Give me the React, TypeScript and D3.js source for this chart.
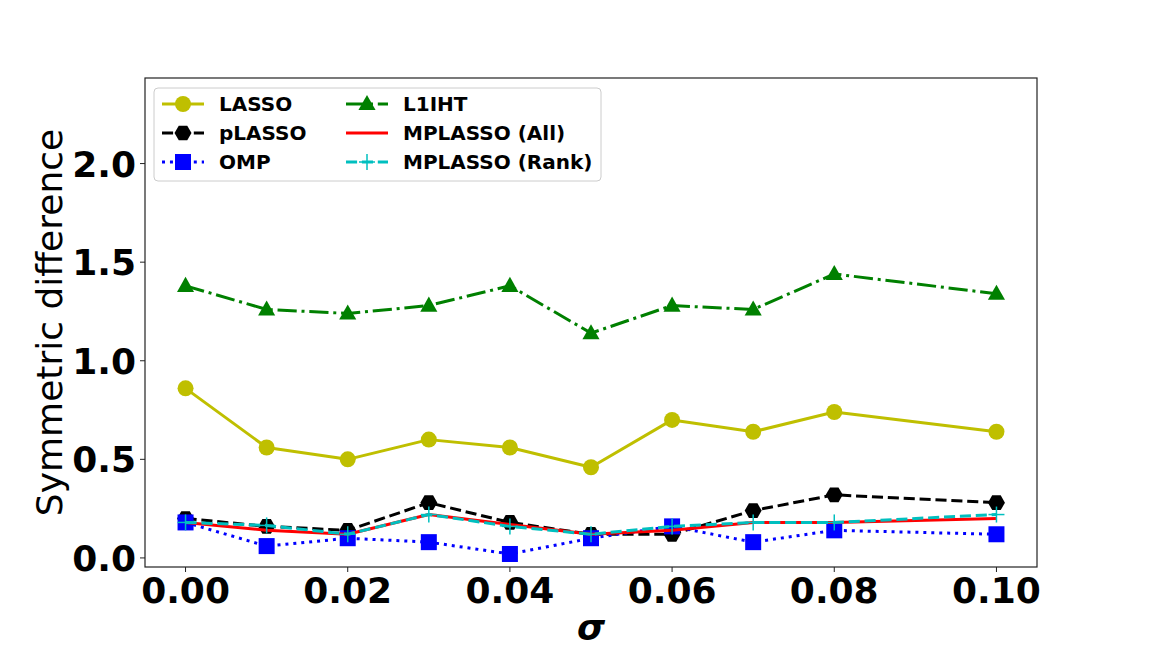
import React from "react";
import * as d3 from "d3";

const sigma = [0, 0.01, 0.02, 0.03, 0.04, 0.05, 0.06, 0.07, 0.08, 0.1];
const lasso = [0.86, 0.56, 0.5, 0.6, 0.56, 0.46, 0.7, 0.64, 0.74, 0.64];
const plasso = [0.2, 0.16, 0.14, 0.28, 0.18, 0.12, 0.12, 0.24, 0.32, 0.28];
const omp = [0.18, 0.06, 0.1, 0.08, 0.02, 0.1, 0.16, 0.08, 0.14, 0.12];
const l1iht = [1.38, 1.26, 1.24, 1.28, 1.38, 1.14, 1.28, 1.26, 1.44, 1.34];
const mpAll = [0.18, 0.14, 0.12, 0.22, 0.17, 0.12, 0.14, 0.18, 0.18, 0.2];
const mpRank = [0.18, 0.165, 0.12, 0.22, 0.16, 0.12, 0.16, 0.18, 0.18, 0.22];
const xTicks = [0, 0.02, 0.04, 0.06, 0.08, 0.1];
const yTicks = [0, 0.5, 1.0, 1.5, 2.0];

type Marker = "circle" | "hexagon" | "square" | "triangle" | "none" | "plus";
interface Series {
  name: string;
  values: number[];
  color: string;
  dash: string | null;
  marker: Marker;
  width: number;
}

const series: Series[] = [
  { name: "LASSO", values: lasso, color: "#bfbf00", dash: null, marker: "circle", width: 3 },
  { name: "pLASSO", values: plasso, color: "#000000", dash: "11.1,4.8", marker: "hexagon", width: 3 },
  { name: "OMP", values: omp, color: "#0000ff", dash: "3,4.95", marker: "square", width: 3 },
  { name: "L1IHT", values: l1iht, color: "#008000", dash: "19.2,4.8,3,4.8", marker: "triangle", width: 3 },
  { name: "MPLASSO (All)", values: mpAll, color: "#ff0000", dash: null, marker: "none", width: 3 },
  { name: "MPLASSO (Rank)", values: mpRank, color: "#00bfbf", dash: "11.1,4.8", marker: "plus", width: 3 },
];

const W = 1152, H = 648;
const L = 145, R = 1037, T = 78, B = 567;

const x = d3.scaleLinear().domain([-0.005, 0.105]).range([L, R]);
const y = d3.scaleLinear().domain([-0.046, 2.434]).range([B, T]);

function MarkerShape({ m, cx, cy, color }: { m: Marker; cx: number; cy: number; color: string }) {
  if (m === "circle") return <circle cx={cx} cy={cy} r={8} fill={color} />;
  if (m === "square") return <rect x={cx - 8} y={cy - 8} width={16} height={16} fill={color} />;
  if (m === "triangle") {
    const r = 9;
    const pts = [[cx, cy - r], [cx - r * 0.95, cy + r * 0.68], [cx + r * 0.95, cy + r * 0.68]];
    return <polygon points={pts.map((p) => p.join(",")).join(" ")} fill={color} />;
  }
  if (m === "hexagon") {
    const r = 8.5;
    const pts = d3.range(6).map((i) => {
      const a = (Math.PI / 3) * i;
      return [cx + r * Math.cos(a), cy + r * Math.sin(a)];
    });
    return <polygon points={pts.map((p) => p.join(",")).join(" ")} fill={color} />;
  }
  if (m === "plus")
    return (
      <g stroke={color} strokeWidth={1.5}>
        <line x1={cx - 8} x2={cx + 8} y1={cy} y2={cy} />
        <line x1={cx} x2={cx} y1={cy - 8} y2={cy + 8} />
      </g>
    );
  return null;
}

export default function App() {
  const line = d3
    .line<number>()
    .x((_, i) => x(sigma[i]))
    .y((d) => y(d));

  const legendRows = [
    [series[0], series[3]],
    [series[1], series[4]],
    [series[2], series[5]],
  ];

  return (
    <svg
      width={W}
      height={H}
      style={{ position: "absolute", left: 0, top: 0, display: "block", background: "#fff" }}
      fontFamily="DejaVu Sans"
    >
      <rect x={0} y={0} width={W} height={H} fill="#fff" />
      <defs>
        <clipPath id="plot">
          <rect x={L} y={T} width={R - L} height={B - T} />
        </clipPath>
      </defs>
      <g clipPath="url(#plot)">
        {series.map((s) => (
          <g key={s.name}>
            <path
              d={line(s.values) || ""}
              fill="none"
              stroke={s.color}
              strokeWidth={s.width}
              strokeDasharray={s.dash || undefined}
              strokeLinejoin="round"
            />
            {s.values.map((v, i) => (
              <MarkerShape key={i} m={s.marker} cx={x(sigma[i])} cy={y(v)} color={s.color} />
            ))}
          </g>
        ))}
      </g>
      <rect x={L} y={T} width={R - L} height={B - T} fill="none" stroke="#222" strokeWidth={1.2} />
      {xTicks.map((t) => (
        <g key={t}>
          <line x1={x(t)} x2={x(t)} y1={B} y2={B + 5} stroke="#222" strokeWidth={1} />
          <text x={x(t)} y={603} textAnchor="middle" fontSize={36} fontWeight="bold">
            {t.toFixed(2)}
          </text>
        </g>
      ))}
      {yTicks.map((t) => (
        <g key={t}>
          <line x1={L - 5} x2={L} y1={y(t)} y2={y(t)} stroke="#222" strokeWidth={1} />
          <text x={136} y={y(t)} dy="0.36em" textAnchor="end" fontSize={36} fontWeight="bold">
            {t.toFixed(1)}
          </text>
        </g>
      ))}
      <text x={591} y={640} textAnchor="middle" fontSize={36} fontWeight="bold" fontStyle="italic">
        σ
      </text>
      <text
        transform={`translate(62,${(T + B) / 2}) rotate(-90)`}
        textAnchor="middle"
        fontSize={36}
      >
        Symmetric difference
      </text>
      <g>
        <rect x={154} y={88} width={447} height={93} rx={4} fill="#fff" fillOpacity={0.8} stroke="#ccc" strokeWidth={1} />
        {legendRows.map((row, ri) =>
          row.map((s, ci) => {
            const hx = ci === 0 ? 162 : 346;
            const tx = ci === 0 ? 219 : 403;
            const cy = 104 + ri * 29;
            return (
              <g key={s.name}>
                <line
                  x1={hx}
                  x2={hx + 42}
                  y1={cy}
                  y2={cy}
                  stroke={s.color}
                  strokeWidth={s.width}
                  strokeDasharray={s.dash || undefined}
                />
                <MarkerShape m={s.marker} cx={hx + 21} cy={cy} color={s.color} />
                <text x={tx} y={cy} dy="0.36em" fontSize={20} fontWeight="bold">
                  {s.name}
                </text>
              </g>
            );
          })
        )}
      </g>
    </svg>
  );
}
